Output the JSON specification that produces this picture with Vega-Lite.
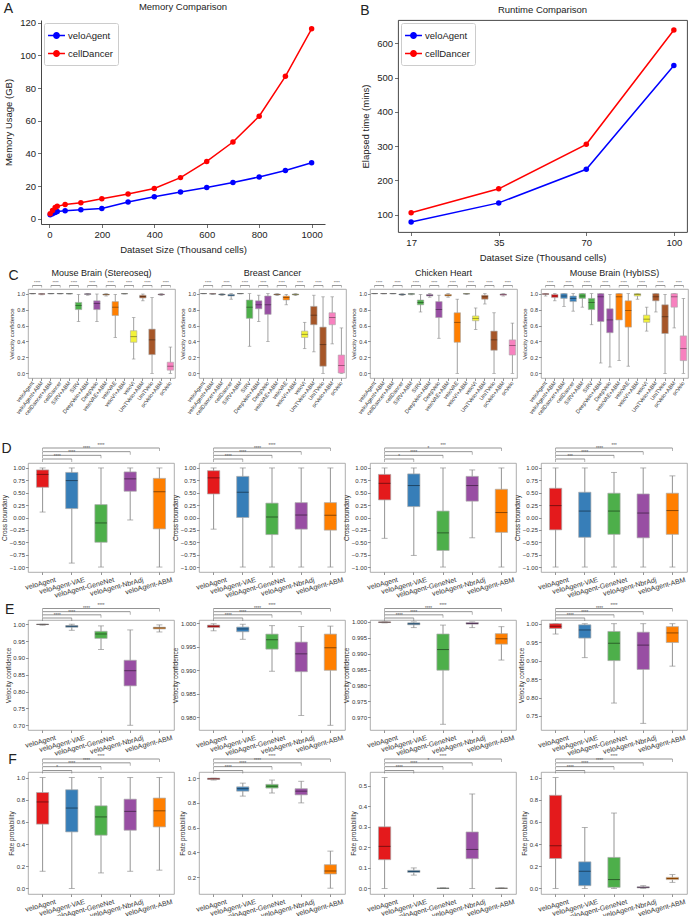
{
  "$schema": "https://vega.github.io/schema/vega-lite/v6.json",
  "padding": {"left": 1, "top": 2, "right": 0, "bottom": 0},
  "background": "white",
  "config": {
    "font": "Liberation Sans",
    "view": {"stroke": "#999999", "strokeWidth": 0.8},
    "axis": {"grid": false, "domain": false, "tickColor": "#666666", "tickSize": 2.5, "tickWidth": 0.7, "labelColor": "#333333", "titleColor": "#333333", "labelFontSize": 6, "titleFontSize": 6.5, "titleFontWeight": "normal", "labelPadding": 1, "titlePadding": 1.5, "labelOverlap": false, "labelFlush": false, "labelBound": false},
    "title": {"fontWeight": "normal", "fontSize": 9, "color": "#222222"}
  },
  "datasets": {
    "mem": [
      {"tool": "veloAgent", "cells": 3, "gb": 2.5}, {"tool": "veloAgent", "cells": 12, "gb": 3.0}, {"tool": "veloAgent", "cells": 22, "gb": 3.8}, {"tool": "veloAgent", "cells": 30, "gb": 4.5},
      {"tool": "veloAgent", "cells": 60, "gb": 4.9}, {"tool": "veloAgent", "cells": 120, "gb": 5.5}, {"tool": "veloAgent", "cells": 200, "gb": 6.3}, {"tool": "veloAgent", "cells": 300, "gb": 10.3},
      {"tool": "veloAgent", "cells": 400, "gb": 13.5}, {"tool": "veloAgent", "cells": 500, "gb": 16.4}, {"tool": "veloAgent", "cells": 600, "gb": 19.1}, {"tool": "veloAgent", "cells": 700, "gb": 22.2},
      {"tool": "veloAgent", "cells": 800, "gb": 25.6}, {"tool": "veloAgent", "cells": 900, "gb": 29.5}, {"tool": "veloAgent", "cells": 1000, "gb": 34.3},
      {"tool": "cellDancer", "cells": 3, "gb": 3.1}, {"tool": "cellDancer", "cells": 12, "gb": 5.1}, {"tool": "cellDancer", "cells": 22, "gb": 6.9}, {"tool": "cellDancer", "cells": 30, "gb": 7.6},
      {"tool": "cellDancer", "cells": 60, "gb": 8.8}, {"tool": "cellDancer", "cells": 120, "gb": 9.8}, {"tool": "cellDancer", "cells": 200, "gb": 12.3}, {"tool": "cellDancer", "cells": 300, "gb": 15.2},
      {"tool": "cellDancer", "cells": 400, "gb": 18.5}, {"tool": "cellDancer", "cells": 500, "gb": 25.2}, {"tool": "cellDancer", "cells": 600, "gb": 35.1}, {"tool": "cellDancer", "cells": 700, "gb": 47.0},
      {"tool": "cellDancer", "cells": 800, "gb": 62.8}, {"tool": "cellDancer", "cells": 900, "gb": 87.2}, {"tool": "cellDancer", "cells": 1000, "gb": 116.3}
    ],
    "rt": [
      {"tool": "veloAgent", "size": "17", "mins": 78}, {"tool": "veloAgent", "size": "35", "mins": 134}, {"tool": "veloAgent", "size": "70", "mins": 232}, {"tool": "veloAgent", "size": "100", "mins": 535},
      {"tool": "cellDancer", "size": "17", "mins": 105}, {"tool": "cellDancer", "size": "35", "mins": 175}, {"tool": "cellDancer", "size": "70", "mins": 305}, {"tool": "cellDancer", "size": "100", "mins": 639}
    ],
    "box": [
      {"p": "C1", "m": "veloAgent", "g": "veloAgent", "lo": 0.996, "q1": 0.999, "med": 1, "q3": 1, "hi": 1},
      {"p": "C1", "m": "veloAgent+ABM", "g": "veloAgent", "lo": 0.985, "q1": 0.993, "med": 0.996, "q3": 0.998, "hi": 1},
      {"p": "C1", "m": "cellDancer+ABM", "g": "cellDancer", "lo": 0.997, "q1": 0.999, "med": 1, "q3": 1, "hi": 1},
      {"p": "C1", "m": "cellDancer", "g": "cellDancer", "lo": 0.996, "q1": 0.999, "med": 1, "q3": 1, "hi": 1},
      {"p": "C1", "m": "SIRV+ABM", "g": "SIRV", "lo": 0.995, "q1": 0.998, "med": 0.999, "q3": 1, "hi": 1},
      {"p": "C1", "m": "SIRV", "g": "SIRV", "lo": 0.65, "q1": 0.8, "med": 0.85, "q3": 0.89, "hi": 0.99},
      {"p": "C1", "m": "DeepVelo+ABM", "g": "DeepVelo", "lo": 0.98, "q1": 0.99, "med": 0.995, "q3": 0.998, "hi": 1},
      {"p": "C1", "m": "DeepVelo", "g": "DeepVelo", "lo": 0.65, "q1": 0.8, "med": 0.875, "q3": 0.91, "hi": 0.995},
      {"p": "C1", "m": "veloVAE+ABM", "g": "veloVAE", "lo": 0.97, "q1": 0.982, "med": 0.988, "q3": 0.993, "hi": 1},
      {"p": "C1", "m": "veloVAE", "g": "veloVAE", "lo": 0.45, "q1": 0.725, "med": 0.83, "q3": 0.9, "hi": 0.99},
      {"p": "C1", "m": "veloVI+ABM", "g": "veloVI", "lo": 0.995, "q1": 0.998, "med": 0.999, "q3": 1, "hi": 1},
      {"p": "C1", "m": "veloVI", "g": "veloVI", "lo": 0.18, "q1": 0.39, "med": 0.46, "q3": 0.535, "hi": 0.7},
      {"p": "C1", "m": "UniTVelo+ABM", "g": "UniTVelo", "lo": 0.91, "q1": 0.945, "med": 0.965, "q3": 0.98, "hi": 0.995},
      {"p": "C1", "m": "UniTVelo", "g": "UniTVelo", "lo": 0, "q1": 0.235, "med": 0.42, "q3": 0.555, "hi": 0.95},
      {"p": "C1", "m": "scVelo+ABM", "g": "scVelo", "lo": 0.975, "q1": 0.985, "med": 0.99, "q3": 0.995, "hi": 1},
      {"p": "C1", "m": "scVelo", "g": "scVelo", "lo": 0, "q1": 0.04, "med": 0.09, "q3": 0.14, "hi": 0.33},
      {"p": "C2", "m": "veloAgent", "g": "veloAgent", "lo": 0.998, "q1": 1, "med": 1, "q3": 1, "hi": 1},
      {"p": "C2", "m": "veloAgent+ABM", "g": "veloAgent", "lo": 0.99, "q1": 0.995, "med": 0.997, "q3": 0.999, "hi": 1},
      {"p": "C2", "m": "cellDancer+ABM", "g": "cellDancer", "lo": 0.975, "q1": 0.985, "med": 0.99, "q3": 0.995, "hi": 1},
      {"p": "C2", "m": "cellDancer", "g": "cellDancer", "lo": 0.93, "q1": 0.97, "med": 0.98, "q3": 0.99, "hi": 1},
      {"p": "C2", "m": "SIRV+ABM", "g": "SIRV", "lo": 0.997, "q1": 0.999, "med": 1, "q3": 1, "hi": 1},
      {"p": "C2", "m": "SIRV", "g": "SIRV", "lo": 0.34, "q1": 0.69, "med": 0.83, "q3": 0.92, "hi": 1},
      {"p": "C2", "m": "DeepVelo+ABM", "g": "DeepVelo", "lo": 0.65, "q1": 0.81, "med": 0.86, "q3": 0.91, "hi": 0.98},
      {"p": "C2", "m": "DeepVelo", "g": "DeepVelo", "lo": 0.4, "q1": 0.74, "med": 0.86, "q3": 0.97, "hi": 1},
      {"p": "C2", "m": "veloVAE+ABM", "g": "veloVAE", "lo": 0.975, "q1": 0.985, "med": 0.99, "q3": 0.995, "hi": 1},
      {"p": "C2", "m": "veloVAE", "g": "veloVAE", "lo": 0.86, "q1": 0.92, "med": 0.95, "q3": 0.97, "hi": 0.99},
      {"p": "C2", "m": "veloVI+ABM", "g": "veloVI", "lo": 0.975, "q1": 0.985, "med": 0.99, "q3": 0.995, "hi": 1},
      {"p": "C2", "m": "veloVI", "g": "veloVI", "lo": 0.31, "q1": 0.45, "med": 0.49, "q3": 0.53, "hi": 0.64},
      {"p": "C2", "m": "UniTVelo+ABM", "g": "UniTVelo", "lo": 0.27, "q1": 0.61, "med": 0.73, "q3": 0.84, "hi": 0.98},
      {"p": "C2", "m": "UniTVelo", "g": "UniTVelo", "lo": 0, "q1": 0.09, "med": 0.36, "q3": 0.58, "hi": 0.96},
      {"p": "C2", "m": "scVelo+ABM", "g": "scVelo", "lo": 0.37, "q1": 0.61, "med": 0.7, "q3": 0.76, "hi": 0.96},
      {"p": "C2", "m": "scVelo", "g": "scVelo", "lo": 0, "q1": 0.005, "med": 0.1, "q3": 0.23, "hi": 0.57},
      {"p": "C3", "m": "veloAgent", "g": "veloAgent", "lo": 0.998, "q1": 1, "med": 1, "q3": 1, "hi": 1},
      {"p": "C3", "m": "veloAgent+ABM", "g": "veloAgent", "lo": 0.997, "q1": 0.999, "med": 1, "q3": 1, "hi": 1},
      {"p": "C3", "m": "cellDancer+ABM", "g": "cellDancer", "lo": 0.997, "q1": 0.999, "med": 1, "q3": 1, "hi": 1},
      {"p": "C3", "m": "cellDancer", "g": "cellDancer", "lo": 0.975, "q1": 0.985, "med": 0.99, "q3": 0.995, "hi": 1},
      {"p": "C3", "m": "SIRV+ABM", "g": "SIRV", "lo": 0.985, "q1": 0.992, "med": 0.996, "q3": 0.999, "hi": 1},
      {"p": "C3", "m": "SIRV", "g": "SIRV", "lo": 0.77, "q1": 0.86, "med": 0.89, "q3": 0.92, "hi": 0.99},
      {"p": "C3", "m": "DeepVelo+ABM", "g": "DeepVelo", "lo": 0.955, "q1": 0.97, "med": 0.98, "q3": 0.99, "hi": 1},
      {"p": "C3", "m": "DeepVelo", "g": "DeepVelo", "lo": 0.44, "q1": 0.7, "med": 0.8, "q3": 0.9, "hi": 0.98},
      {"p": "C3", "m": "veloVAE+ABM", "g": "veloVAE", "lo": 0.955, "q1": 0.97, "med": 0.98, "q3": 0.99, "hi": 1},
      {"p": "C3", "m": "veloVAE", "g": "veloVAE", "lo": 0, "q1": 0.39, "med": 0.64, "q3": 0.76, "hi": 0.93},
      {"p": "C3", "m": "veloVI+ABM", "g": "veloVI", "lo": 0.99, "q1": 0.995, "med": 0.998, "q3": 1, "hi": 1},
      {"p": "C3", "m": "veloVI", "g": "veloVI", "lo": 0.55, "q1": 0.66, "med": 0.69, "q3": 0.72, "hi": 0.82},
      {"p": "C3", "m": "UniTVelo+ABM", "g": "UniTVelo", "lo": 0.87, "q1": 0.93, "med": 0.96, "q3": 0.98, "hi": 1},
      {"p": "C3", "m": "UniTVelo", "g": "UniTVelo", "lo": 0, "q1": 0.29, "med": 0.42, "q3": 0.53, "hi": 0.76},
      {"p": "C3", "m": "scVelo+ABM", "g": "scVelo", "lo": 0.97, "q1": 0.98, "med": 0.99, "q3": 0.995, "hi": 1},
      {"p": "C3", "m": "scVelo", "g": "scVelo", "lo": 0, "q1": 0.23, "med": 0.35, "q3": 0.42, "hi": 0.63},
      {"p": "C4", "m": "veloAgent", "g": "veloAgent", "lo": 0.97, "q1": 0.99, "med": 0.995, "q3": 1, "hi": 1},
      {"p": "C4", "m": "veloAgent+ABM", "g": "veloAgent", "lo": 0.91, "q1": 0.95, "med": 0.97, "q3": 0.99, "hi": 1},
      {"p": "C4", "m": "cellDancer+ABM", "g": "cellDancer", "lo": 0.84, "q1": 0.94, "med": 0.97, "q3": 1, "hi": 1},
      {"p": "C4", "m": "cellDancer", "g": "cellDancer", "lo": 0.78, "q1": 0.9, "med": 0.94, "q3": 0.97, "hi": 1},
      {"p": "C4", "m": "SIRV+ABM", "g": "SIRV", "lo": 0.83, "q1": 0.94, "med": 0.97, "q3": 1, "hi": 1},
      {"p": "C4", "m": "SIRV", "g": "SIRV", "lo": 0.61, "q1": 0.8, "med": 0.89, "q3": 0.94, "hi": 1},
      {"p": "C4", "m": "DeepVelo+ABM", "g": "DeepVelo", "lo": 0.13, "q1": 0.65, "med": 0.96, "q3": 1, "hi": 1},
      {"p": "C4", "m": "DeepVelo", "g": "DeepVelo", "lo": 0.08, "q1": 0.51, "med": 0.67, "q3": 0.81, "hi": 0.99},
      {"p": "C4", "m": "veloVAE+ABM", "g": "veloVAE", "lo": 0.16, "q1": 0.67, "med": 0.96, "q3": 1, "hi": 1},
      {"p": "C4", "m": "veloVAE", "g": "veloVAE", "lo": 0.09, "q1": 0.58, "med": 0.79, "q3": 0.91, "hi": 1},
      {"p": "C4", "m": "veloVI+ABM", "g": "veloVI", "lo": 0.93, "q1": 0.97, "med": 0.99, "q3": 1, "hi": 1},
      {"p": "C4", "m": "veloVI", "g": "veloVI", "lo": 0.53, "q1": 0.64, "med": 0.68, "q3": 0.73, "hi": 0.83},
      {"p": "C4", "m": "UniTVelo+ABM", "g": "UniTVelo", "lo": 0.77, "q1": 0.91, "med": 0.96, "q3": 1, "hi": 1},
      {"p": "C4", "m": "UniTVelo", "g": "UniTVelo", "lo": 0, "q1": 0.5, "med": 0.71, "q3": 0.86, "hi": 0.99},
      {"p": "C4", "m": "scVelo+ABM", "g": "scVelo", "lo": 0.57, "q1": 0.83, "med": 0.96, "q3": 1, "hi": 1},
      {"p": "C4", "m": "scVelo", "g": "scVelo", "lo": 0, "q1": 0.16, "med": 0.31, "q3": 0.47, "hi": 0.94},
      {"p": "D1", "m": "veloAgent", "lo": 0.11, "q1": 0.61, "med": 0.87, "q3": 0.96, "hi": 1},
      {"p": "D1", "m": "veloAgent-VAE", "lo": -0.92, "q1": 0.18, "med": 0.745, "q3": 0.91, "hi": 1},
      {"p": "D1", "m": "veloAgent-GeneNet", "lo": -1, "q1": -0.5, "med": -0.11, "q3": 0.26, "hi": 1},
      {"p": "D1", "m": "veloAgent-NbrAdj", "lo": -0.05, "q1": 0.53, "med": 0.78, "q3": 0.92, "hi": 1},
      {"p": "D1", "m": "veloAgent-ABM", "lo": -1, "q1": -0.23, "med": 0.52, "q3": 0.79, "hi": 1},
      {"p": "D2", "m": "veloAgent", "lo": -0.235, "q1": 0.475, "med": 0.8, "q3": 0.945, "hi": 1},
      {"p": "D2", "m": "veloAgent-VAE", "lo": -1, "q1": 0, "med": 0.51, "q3": 0.83, "hi": 1},
      {"p": "D2", "m": "veloAgent-GeneNet", "lo": -1, "q1": -0.345, "med": 0.01, "q3": 0.29, "hi": 1},
      {"p": "D2", "m": "veloAgent-NbrAdj", "lo": -1, "q1": -0.235, "med": 0.05, "q3": 0.3, "hi": 1},
      {"p": "D2", "m": "veloAgent-ABM", "lo": -1, "q1": -0.255, "med": 0.045, "q3": 0.3, "hi": 1},
      {"p": "D3", "m": "veloAgent", "lo": -0.42, "q1": 0.355, "med": 0.69, "q3": 0.87, "hi": 1},
      {"p": "D3", "m": "veloAgent-VAE", "lo": -0.765, "q1": 0.22, "med": 0.645, "q3": 0.88, "hi": 1},
      {"p": "D3", "m": "veloAgent-GeneNet", "lo": -1, "q1": -0.665, "med": -0.31, "q3": 0.13, "hi": 1},
      {"p": "D3", "m": "veloAgent-NbrAdj", "lo": -0.41, "q1": 0.33, "med": 0.645, "q3": 0.83, "hi": 0.96},
      {"p": "D3", "m": "veloAgent-ABM", "lo": -1, "q1": -0.3, "med": 0.1, "q3": 0.57, "hi": 1},
      {"p": "D4", "m": "veloAgent", "lo": -1, "q1": -0.25, "med": 0.24, "q3": 0.59, "hi": 1},
      {"p": "D4", "m": "veloAgent-VAE", "lo": -1, "q1": -0.4, "med": 0.13, "q3": 0.51, "hi": 1},
      {"p": "D4", "m": "veloAgent-GeneNet", "lo": -1, "q1": -0.34, "med": 0.13, "q3": 0.49, "hi": 0.91},
      {"p": "D4", "m": "veloAgent-NbrAdj", "lo": -1, "q1": -0.41, "med": 0.09, "q3": 0.475, "hi": 1},
      {"p": "D4", "m": "veloAgent-ABM", "lo": -1, "q1": -0.34, "med": 0.14, "q3": 0.49, "hi": 0.84},
      {"p": "E1", "m": "veloAgent", "lo": 0.997, "q1": 0.999, "med": 0.9995, "q3": 1, "hi": 1},
      {"p": "E1", "m": "veloAgent-VAE", "lo": 0.982, "q1": 0.991, "med": 0.994, "q3": 0.996, "hi": 1},
      {"p": "E1", "m": "veloAgent-GeneNet", "lo": 0.925, "q1": 0.958, "med": 0.971, "q3": 0.979, "hi": 0.995},
      {"p": "E1", "m": "veloAgent-NbrAdj", "lo": 0.7, "q1": 0.817, "med": 0.862, "q3": 0.893, "hi": 0.983},
      {"p": "E1", "m": "veloAgent-ABM", "lo": 0.977, "q1": 0.986, "med": 0.989, "q3": 0.991, "hi": 0.998},
      {"p": "E2", "m": "veloAgent", "lo": 0.9984, "q1": 0.9991, "med": 0.9994, "q3": 0.9996, "hi": 0.9999},
      {"p": "E2", "m": "veloAgent-VAE", "lo": 0.9966, "q1": 0.9982, "med": 0.9988, "q3": 0.9992, "hi": 0.9998},
      {"p": "E2", "m": "veloAgent-GeneNet", "lo": 0.9898, "q1": 0.9945, "med": 0.9965, "q3": 0.9977, "hi": 0.9995},
      {"p": "E2", "m": "veloAgent-NbrAdj", "lo": 0.9804, "q1": 0.9897, "med": 0.9935, "q3": 0.996, "hi": 0.9993},
      {"p": "E2", "m": "veloAgent-ABM", "lo": 0.9783, "q1": 0.99, "med": 0.9948, "q3": 0.9977, "hi": 0.9994},
      {"p": "E3", "m": "veloAgent", "lo": 0.9997, "q1": 0.9998, "med": 0.9999, "q3": 1, "hi": 1},
      {"p": "E3", "m": "veloAgent-VAE", "lo": 0.9982, "q1": 0.9991, "med": 0.9994, "q3": 0.9997, "hi": 1},
      {"p": "E3", "m": "veloAgent-GeneNet", "lo": 0.9678, "q1": 0.9848, "med": 0.9913, "q3": 0.9962, "hi": 0.999},
      {"p": "E3", "m": "veloAgent-NbrAdj", "lo": 0.9982, "q1": 0.9993, "med": 0.9995, "q3": 0.9998, "hi": 1},
      {"p": "E3", "m": "veloAgent-ABM", "lo": 0.988, "q1": 0.993, "med": 0.9947, "q3": 0.9963, "hi": 0.9985},
      {"p": "E4", "m": "veloAgent", "lo": 0.972, "q1": 0.987, "med": 0.993, "q3": 1, "hi": 1},
      {"p": "E4", "m": "veloAgent-VAE", "lo": 0.908, "q1": 0.961, "med": 0.983, "q3": 0.997, "hi": 1},
      {"p": "E4", "m": "veloAgent-GeneNet", "lo": 0.785, "q1": 0.9, "med": 0.947, "q3": 0.979, "hi": 1},
      {"p": "E4", "m": "veloAgent-NbrAdj", "lo": 0.73, "q1": 0.876, "med": 0.942, "q3": 0.977, "hi": 1},
      {"p": "E4", "m": "veloAgent-ABM", "lo": 0.885, "q1": 0.949, "med": 0.975, "q3": 0.992, "hi": 1},
      {"p": "F1", "m": "veloAgent", "lo": 0.155, "q1": 0.58, "med": 0.78, "q3": 0.865, "hi": 1},
      {"p": "F1", "m": "veloAgent-VAE", "lo": 0, "q1": 0.51, "med": 0.725, "q3": 0.89, "hi": 1},
      {"p": "F1", "m": "veloAgent-GeneNet", "lo": 0.14, "q1": 0.48, "med": 0.645, "q3": 0.745, "hi": 1},
      {"p": "F1", "m": "veloAgent-NbrAdj", "lo": 0.155, "q1": 0.525, "med": 0.695, "q3": 0.805, "hi": 1},
      {"p": "F1", "m": "veloAgent-ABM", "lo": 0.165, "q1": 0.555, "med": 0.7, "q3": 0.815, "hi": 1},
      {"p": "F2", "m": "veloAgent", "lo": 0.985, "q1": 0.99, "med": 0.995, "q3": 1, "hi": 1},
      {"p": "F2", "m": "veloAgent-VAE", "lo": 0.855, "q1": 0.895, "med": 0.915, "q3": 0.93, "hi": 0.96},
      {"p": "F2", "m": "veloAgent-GeneNet", "lo": 0.88, "q1": 0.92, "med": 0.935, "q3": 0.95, "hi": 0.985},
      {"p": "F2", "m": "veloAgent-NbrAdj", "lo": 0.8, "q1": 0.865, "med": 0.895, "q3": 0.915, "hi": 0.975},
      {"p": "F2", "m": "veloAgent-ABM", "lo": 0.11, "q1": 0.225, "med": 0.25, "q3": 0.3, "hi": 0.41},
      {"p": "F3", "m": "veloAgent", "lo": 0, "q1": 0.14, "med": 0.205, "q3": 0.3, "hi": 0.54},
      {"p": "F3", "m": "veloAgent-VAE", "lo": 0.065, "q1": 0.078, "med": 0.083, "q3": 0.088, "hi": 0.1},
      {"p": "F3", "m": "veloAgent-GeneNet", "lo": 0, "q1": 0.0005, "med": 0.001, "q3": 0.0015, "hi": 0.003},
      {"p": "F3", "m": "veloAgent-NbrAdj", "lo": 0, "q1": 0.145, "med": 0.19, "q3": 0.275, "hi": 0.46},
      {"p": "F3", "m": "veloAgent-ABM", "lo": 0, "q1": 0.0005, "med": 0.001, "q3": 0.0015, "hi": 0.003},
      {"p": "F4", "m": "veloAgent", "lo": 0, "q1": 0.27, "med": 0.385, "q3": 0.84, "hi": 1},
      {"p": "F4", "m": "veloAgent-VAE", "lo": 0, "q1": 0.025, "med": 0.155, "q3": 0.24, "hi": 0.55},
      {"p": "F4", "m": "veloAgent-GeneNet", "lo": 0, "q1": 0.01, "med": 0.08, "q3": 0.28, "hi": 0.68},
      {"p": "F4", "m": "veloAgent-NbrAdj", "lo": 0, "q1": 0.005, "med": 0.01, "q3": 0.015, "hi": 0.025},
      {"p": "F4", "m": "veloAgent-ABM", "lo": 0.055, "q1": 0.08, "med": 0.09, "q3": 0.1, "hi": 0.125}
    ],
    "brkC": [
      {"x1": 0, "x2": 1, "xm": 0.5, "lvl": 1, "t": "****"}, {"x1": 2, "x2": 3, "xm": 2.5, "lvl": 1, "t": "****"},
      {"x1": 4, "x2": 5, "xm": 4.5, "lvl": 1, "t": "****"}, {"x1": 6, "x2": 7, "xm": 6.5, "lvl": 1, "t": "****"},
      {"x1": 8, "x2": 9, "xm": 8.5, "lvl": 1, "t": "****"}, {"x1": 10, "x2": 11, "xm": 10.5, "lvl": 1, "t": "****"},
      {"x1": 12, "x2": 13, "xm": 12.5, "lvl": 1, "t": "****"}, {"x1": 14, "x2": 15, "xm": 14.5, "lvl": 1, "t": "****"}
    ],
    "brk": [
      {"p": "D1", "x1": 0, "x2": 1, "xm": 0.5, "lvl": 1, "t": "****"}, {"p": "D1", "x1": 0, "x2": 2, "xm": 1, "lvl": 2, "t": "****"}, {"p": "D1", "x1": 0, "x2": 3, "xm": 1.5, "lvl": 3, "t": "****"}, {"p": "D1", "x1": 0, "x2": 4, "xm": 2, "lvl": 4, "t": "****"},
      {"p": "D2", "x1": 0, "x2": 1, "xm": 0.5, "lvl": 1, "t": "****"}, {"p": "D2", "x1": 0, "x2": 2, "xm": 1, "lvl": 2, "t": "****"}, {"p": "D2", "x1": 0, "x2": 3, "xm": 1.5, "lvl": 3, "t": "****"}, {"p": "D2", "x1": 0, "x2": 4, "xm": 2, "lvl": 4, "t": "****"},
      {"p": "D3", "x1": 0, "x2": 1, "xm": 0.5, "lvl": 1, "t": "*"}, {"p": "D3", "x1": 0, "x2": 2, "xm": 1, "lvl": 2, "t": "****"}, {"p": "D3", "x1": 0, "x2": 3, "xm": 1.5, "lvl": 3, "t": "*"}, {"p": "D3", "x1": 0, "x2": 4, "xm": 2, "lvl": 4, "t": "***"},
      {"p": "D4", "x1": 0, "x2": 1, "xm": 0.5, "lvl": 1, "t": "***"}, {"p": "D4", "x1": 0, "x2": 2, "xm": 1, "lvl": 2, "t": "****"}, {"p": "D4", "x1": 0, "x2": 3, "xm": 1.5, "lvl": 3, "t": "****"}, {"p": "D4", "x1": 0, "x2": 4, "xm": 2, "lvl": 4, "t": "***"},
      {"p": "E1", "x1": 0, "x2": 1, "xm": 0.5, "lvl": 1, "t": "****"}, {"p": "E1", "x1": 0, "x2": 2, "xm": 1, "lvl": 2, "t": "****"}, {"p": "E1", "x1": 0, "x2": 3, "xm": 1.5, "lvl": 3, "t": "****"}, {"p": "E1", "x1": 0, "x2": 4, "xm": 2, "lvl": 4, "t": "****"},
      {"p": "E2", "x1": 0, "x2": 1, "xm": 0.5, "lvl": 1, "t": "****"}, {"p": "E2", "x1": 0, "x2": 2, "xm": 1, "lvl": 2, "t": "****"}, {"p": "E2", "x1": 0, "x2": 3, "xm": 1.5, "lvl": 3, "t": "****"}, {"p": "E2", "x1": 0, "x2": 4, "xm": 2, "lvl": 4, "t": "****"},
      {"p": "E3", "x1": 0, "x2": 1, "xm": 0.5, "lvl": 1, "t": "****"}, {"p": "E3", "x1": 0, "x2": 2, "xm": 1, "lvl": 2, "t": "****"}, {"p": "E3", "x1": 0, "x2": 3, "xm": 1.5, "lvl": 3, "t": "****"}, {"p": "E3", "x1": 0, "x2": 4, "xm": 2, "lvl": 4, "t": "****"},
      {"p": "E4", "x1": 0, "x2": 1, "xm": 0.5, "lvl": 1, "t": "****"}, {"p": "E4", "x1": 0, "x2": 2, "xm": 1, "lvl": 2, "t": "****"}, {"p": "E4", "x1": 0, "x2": 3, "xm": 1.5, "lvl": 3, "t": "****"}, {"p": "E4", "x1": 0, "x2": 4, "xm": 2, "lvl": 4, "t": "****"},
      {"p": "F1", "x1": 0, "x2": 1, "xm": 0.5, "lvl": 1, "t": "*"}, {"p": "F1", "x1": 0, "x2": 2, "xm": 1, "lvl": 2, "t": "****"}, {"p": "F1", "x1": 0, "x2": 3, "xm": 1.5, "lvl": 3, "t": "****"}, {"p": "F1", "x1": 0, "x2": 4, "xm": 2, "lvl": 4, "t": "****"},
      {"p": "F2", "x1": 0, "x2": 1, "xm": 0.5, "lvl": 1, "t": "****"}, {"p": "F2", "x1": 0, "x2": 2, "xm": 1, "lvl": 2, "t": "****"}, {"p": "F2", "x1": 0, "x2": 3, "xm": 1.5, "lvl": 3, "t": "****"}, {"p": "F2", "x1": 0, "x2": 4, "xm": 2, "lvl": 4, "t": "****"},
      {"p": "F3", "x1": 0, "x2": 1, "xm": 0.5, "lvl": 1, "t": "****"}, {"p": "F3", "x1": 0, "x2": 2, "xm": 1, "lvl": 2, "t": "****"}, {"p": "F3", "x1": 0, "x2": 3, "xm": 1.5, "lvl": 3, "t": "*"}, {"p": "F3", "x1": 0, "x2": 4, "xm": 2, "lvl": 4, "t": "****"},
      {"p": "F4", "x1": 0, "x2": 1, "xm": 0.5, "lvl": 1, "t": "****"}, {"p": "F4", "x1": 0, "x2": 2, "xm": 1, "lvl": 2, "t": "****"}, {"p": "F4", "x1": 0, "x2": 3, "xm": 1.5, "lvl": 3, "t": "****"}, {"p": "F4", "x1": 0, "x2": 4, "xm": 2, "lvl": 4, "t": "****"}
    ]
  },
  "resolve": {"scale": {"color": "independent"}, "legend": {"color": "independent"}},
  "spacing": 6,
  "vconcat": [
    {
      "hconcat": [
        {
          "title": {"text": "A", "anchor": "start", "frame": "bounds", "fontSize": 14, "offset": -14},
          "vconcat": [
            {
              "width": 297, "height": 204,
              "view": {"stroke": null},
              "title": {"text": "Memory Comparison", "fontSize": 9.5, "offset": 6, "dx": 6.5},
              "encoding": {
                "x": {"field": "cells", "type": "quantitative", "scale": {"domain": [-32, 1051], "range": [13, 297], "nice": false, "zero": false},
                      "axis": {"values": [0, 200, 400, 600, 800, 1000], "format": "d", "title": "Dataset Size (Thousand cells)", "domain": true, "domainColor": "#333333", "domainWidth": 0.9, "labelFontSize": 9.5, "titleFontSize": 9.5, "tickColor": "#333333", "tickSize": 3.5, "labelPadding": 2, "titlePadding": 5, "labelColor": "#222222", "titleColor": "#222222"}},
                "y": {"field": "gb", "type": "quantitative", "scale": {"domain": [-3.2, 121.7], "nice": false, "zero": false},
                      "axis": {"values": [0, 20, 40, 60, 80, 100, 120], "title": "Memory Usage (GB)", "offset": -13, "domain": true, "domainColor": "#333333", "domainWidth": 0.9, "labelFontSize": 9.5, "titleFontSize": 9.5, "tickColor": "#333333", "tickSize": 3.5, "labelPadding": 2, "titlePadding": 6, "labelColor": "#222222", "titleColor": "#222222"}}
              },
              "layer": [
                {"data": {"name": "mem"},
                 "mark": {"type": "line", "strokeWidth": 1.5, "point": {"filled": true, "size": 30, "opacity": 1}},
                 "encoding": {
                   "color": {"field": "tool", "type": "nominal", "scale": {"domain": ["veloAgent", "cellDancer"], "range": ["#0000ff", "#ff0000"]},
                             "legend": {"title": null, "orient": "none", "legendX": 16, "legendY": 3, "padding": 5, "strokeColor": "#cccccc", "cornerRadius": 2, "fillColor": "white", "labelFontSize": 9.5, "labelColor": "#222222", "rowPadding": 4,
                                        "symbolType": "M-1.3,0L1.3,0M0.42,0A0.42,0.42,0,1,1,-0.42,0A0.42,0.42,0,1,1,0.42,0Z", "symbolSize": 170, "symbolStrokeWidth": 1.5,
                                        "encode": {"symbols": {"update": {"fill": {"signal": "datum.value === 'veloAgent' ? '#0000ff' : '#ff0000'"}, "stroke": {"signal": "datum.value === 'veloAgent' ? '#0000ff' : '#ff0000'"}, "opacity": {"value": 1}}}}}}
                 }},
                {"data": {"values": [{"edge": "top"}]},
                 "mark": {"type": "rule", "color": "#333333", "strokeWidth": 0.9},
                 "encoding": {"x": {"datum": -32, "type": "quantitative"}, "x2": {"datum": 1051}, "y": {"datum": 121.7, "type": "quantitative"}}},
                {"data": {"values": [{"edge": "right"}]},
                 "mark": {"type": "rule", "color": "#333333", "strokeWidth": 0.9},
                 "encoding": {"x": {"datum": 1051, "type": "quantitative"}, "y": {"datum": -3.2, "type": "quantitative"}, "y2": {"datum": 121.7}}}
              ]
            }
          ]
        },
        {
          "title": {"text": "B", "anchor": "start", "frame": "bounds", "fontSize": 14, "offset": -14},
          "vconcat": [
            {
              "width": 289, "height": 212,
              "view": {"stroke": "#333333", "strokeWidth": 0.9},
              "title": {"text": "Runtime Comparison", "fontSize": 9.5, "offset": 6},
              "data": {"name": "rt"},
              "mark": {"type": "line", "strokeWidth": 1.5, "point": {"filled": true, "size": 30, "opacity": 1}},
              "encoding": {
                "x": {"field": "size", "type": "ordinal", "sort": ["17", "35", "70", "100"], "scale": {"type": "point", "padding": 0.15},
                      "axis": {"labelAngle": 0, "title": "Dataset Size (Thousand cells)", "labelFontSize": 9.5, "titleFontSize": 9.5, "tickColor": "#333333", "tickSize": 3.5, "labelPadding": 2, "titlePadding": 5, "labelColor": "#222222", "titleColor": "#222222"}},
                "y": {"field": "mins", "type": "quantitative", "scale": {"domain": [49, 668], "nice": false, "zero": false},
                      "axis": {"values": [100, 200, 300, 400, 500, 600], "title": "Elapsed time (mins)", "labelFontSize": 9.5, "titleFontSize": 9.5, "tickColor": "#333333", "tickSize": 3.5, "labelPadding": 2, "titlePadding": 6, "labelColor": "#222222", "titleColor": "#222222"}},
                "color": {"field": "tool", "type": "nominal", "scale": {"domain": ["veloAgent", "cellDancer"], "range": ["#0000ff", "#ff0000"]},
                          "legend": {"title": null, "orient": "top-left", "offset": 3, "padding": 5, "strokeColor": "#cccccc", "cornerRadius": 2, "fillColor": "white", "labelFontSize": 9.5, "labelColor": "#222222", "rowPadding": 4,
                                     "symbolType": "M-1.3,0L1.3,0M0.42,0A0.42,0.42,0,1,1,-0.42,0A0.42,0.42,0,1,1,0.42,0Z", "symbolSize": 170, "symbolStrokeWidth": 1.5,
                                     "encode": {"symbols": {"update": {"fill": {"signal": "datum.value === 'veloAgent' ? '#0000ff' : '#ff0000'"}, "stroke": {"signal": "datum.value === 'veloAgent' ? '#0000ff' : '#ff0000'"}, "opacity": {"value": 1}}}}}}
              }
            }
          ]
        }
      ],
      "spacing": 35,
      "bounds": "full",
      "resolve": {"scale": {"color": "independent"}, "legend": {"color": "independent"}}
    },
    {
      "spacing": 25,
      "vconcat": [
        {
          "title": {"text": "C", "anchor": "start", "frame": "bounds", "fontSize": 14, "offset": -14},
          "vconcat": [
        {
          "bounds": "flush",
          "spacing": 24,
          "hconcat": [
            {"width": 147, "height": 89, "title": {"text": "Mouse Brain (Stereoseq)", "offset": 3},
             "layer": [
              {"data": {"name": "box"}, "transform": [{"filter": "datum.p == 'C1'"}],
               "encoding": {
                "x": {"field": "m", "type": "nominal", "scale": {"domain": ["veloAgent", "veloAgent+ABM", "cellDancer+ABM", "cellDancer", "SIRV+ABM", "SIRV", "DeepVelo+ABM", "DeepVelo", "veloVAE+ABM", "veloVAE", "veloVI+ABM", "veloVI", "UniTVelo+ABM", "UniTVelo", "scVelo+ABM", "scVelo"], "paddingInner": 0, "paddingOuter": 0}, "axis": {"title": null, "labelAngle": -52, "labelAlign": "right", "labelBaseline": "middle", "labelFontSize": 5.5, "labelPadding": 1}},
                "y": {"field": "q1", "type": "quantitative", "scale": {"domain": [-0.058, 1.058], "nice": false, "zero": false}, "axis": {"title": "Velocity confidence", "values": [0, 0.2, 0.4, 0.6, 0.8, 1], "format": ".1f", "labelFontSize": 5.5, "titleFontSize": 6, "titlePadding": 2}}},
               "layer": [
                {"mark": {"type": "rule", "color": "#888888", "strokeWidth": 0.8}, "encoding": {"y": {"field": "lo", "type": "quantitative"}, "y2": {"field": "hi"}}},
                {"mark": {"type": "tick", "orient": "horizontal", "size": 3.5, "thickness": 0.8, "color": "#888888"}, "encoding": {"y": {"field": "lo", "type": "quantitative"}}},
                {"mark": {"type": "tick", "orient": "horizontal", "size": 3.5, "thickness": 0.8, "color": "#888888"}, "encoding": {"y": {"field": "hi", "type": "quantitative"}}},
                {"mark": {"type": "bar", "width": {"band": 0.7}, "stroke": "#aaaaaa", "strokeWidth": 0.6, "fillOpacity": 1}, "encoding": {"y2": {"field": "q3"}, "color": {"field": "g", "type": "nominal", "legend": null, "scale": {"domain": ["veloAgent", "cellDancer", "SIRV", "DeepVelo", "veloVAE", "veloVI", "UniTVelo", "scVelo", "veloAgent-VAE", "veloAgent-GeneNet", "veloAgent-NbrAdj", "veloAgent-ABM"], "range": ["#e41a1c", "#377eb8", "#4daf4a", "#984ea3", "#ff7f00", "#f2f23a", "#a65628", "#f781bf", "#377eb8", "#4daf4a", "#984ea3", "#ff7f00"]}}}},
                {"mark": {"type": "tick", "orient": "horizontal", "size": 6.5, "thickness": 0.8, "color": "#000000", "opacity": 0.45}, "encoding": {"y": {"field": "med", "type": "quantitative"}}}
               ]},
              {"data": {"name": "brkC"},
               "encoding": {"x": {"field": "x1", "type": "quantitative", "scale": {"domain": [-0.5, 15.5], "nice": false, "zero": false}, "axis": null},
                            "y": {"field": "lvl", "type": "quantitative", "scale": {"domain": [0, 1], "range": [0, -3.5], "nice": false, "zero": false}, "axis": null}},
               "layer": [
                {"mark": {"type": "rule", "color": "#555555", "strokeWidth": 0.6}, "encoding": {"x2": {"field": "x2"}}},
                {"mark": {"type": "tick", "orient": "vertical", "size": 2, "thickness": 0.6, "yOffset": 1, "color": "#555555"}, "encoding": {}},
                {"mark": {"type": "tick", "orient": "vertical", "size": 2, "thickness": 0.6, "yOffset": 1, "color": "#555555"}, "encoding": {"x": {"field": "x2", "type": "quantitative"}}},
                {"mark": {"type": "text", "fontSize": 4, "baseline": "bottom", "dy": -0.2, "fill": "#444444"}, "encoding": {"x": {"field": "xm", "type": "quantitative"}, "text": {"field": "t"}}}
               ]}
             ],
             "resolve": {"scale": {"x": "independent", "y": "independent"}}},
            {"width": 147, "height": 89, "title": {"text": "Breast Cancer", "offset": 3},
             "layer": [
              {"data": {"name": "box"}, "transform": [{"filter": "datum.p == 'C2'"}],
               "encoding": {
                "x": {"field": "m", "type": "nominal", "scale": {"domain": ["veloAgent", "veloAgent+ABM", "cellDancer+ABM", "cellDancer", "SIRV+ABM", "SIRV", "DeepVelo+ABM", "DeepVelo", "veloVAE+ABM", "veloVAE", "veloVI+ABM", "veloVI", "UniTVelo+ABM", "UniTVelo", "scVelo+ABM", "scVelo"], "paddingInner": 0, "paddingOuter": 0}, "axis": {"title": null, "labelAngle": -52, "labelAlign": "right", "labelBaseline": "middle", "labelFontSize": 5.5, "labelPadding": 1}},
                "y": {"field": "q1", "type": "quantitative", "scale": {"domain": [-0.058, 1.058], "nice": false, "zero": false}, "axis": {"title": "Velocity confidence", "values": [0, 0.2, 0.4, 0.6, 0.8, 1], "format": ".1f", "labelFontSize": 5.5, "titleFontSize": 6, "titlePadding": 2}}},
               "layer": [
                {"mark": {"type": "rule", "color": "#888888", "strokeWidth": 0.8}, "encoding": {"y": {"field": "lo", "type": "quantitative"}, "y2": {"field": "hi"}}},
                {"mark": {"type": "tick", "orient": "horizontal", "size": 3.5, "thickness": 0.8, "color": "#888888"}, "encoding": {"y": {"field": "lo", "type": "quantitative"}}},
                {"mark": {"type": "tick", "orient": "horizontal", "size": 3.5, "thickness": 0.8, "color": "#888888"}, "encoding": {"y": {"field": "hi", "type": "quantitative"}}},
                {"mark": {"type": "bar", "width": {"band": 0.7}, "stroke": "#aaaaaa", "strokeWidth": 0.6, "fillOpacity": 1}, "encoding": {"y2": {"field": "q3"}, "color": {"field": "g", "type": "nominal", "legend": null, "scale": {"domain": ["veloAgent", "cellDancer", "SIRV", "DeepVelo", "veloVAE", "veloVI", "UniTVelo", "scVelo", "veloAgent-VAE", "veloAgent-GeneNet", "veloAgent-NbrAdj", "veloAgent-ABM"], "range": ["#e41a1c", "#377eb8", "#4daf4a", "#984ea3", "#ff7f00", "#f2f23a", "#a65628", "#f781bf", "#377eb8", "#4daf4a", "#984ea3", "#ff7f00"]}}}},
                {"mark": {"type": "tick", "orient": "horizontal", "size": 6.5, "thickness": 0.8, "color": "#000000", "opacity": 0.45}, "encoding": {"y": {"field": "med", "type": "quantitative"}}}
               ]},
              {"data": {"name": "brkC"},
               "encoding": {"x": {"field": "x1", "type": "quantitative", "scale": {"domain": [-0.5, 15.5], "nice": false, "zero": false}, "axis": null},
                            "y": {"field": "lvl", "type": "quantitative", "scale": {"domain": [0, 1], "range": [0, -3.5], "nice": false, "zero": false}, "axis": null}},
               "layer": [
                {"mark": {"type": "rule", "color": "#555555", "strokeWidth": 0.6}, "encoding": {"x2": {"field": "x2"}}},
                {"mark": {"type": "tick", "orient": "vertical", "size": 2, "thickness": 0.6, "yOffset": 1, "color": "#555555"}, "encoding": {}},
                {"mark": {"type": "tick", "orient": "vertical", "size": 2, "thickness": 0.6, "yOffset": 1, "color": "#555555"}, "encoding": {"x": {"field": "x2", "type": "quantitative"}}},
                {"mark": {"type": "text", "fontSize": 4, "baseline": "bottom", "dy": -0.2, "fill": "#444444"}, "encoding": {"x": {"field": "xm", "type": "quantitative"}, "text": {"field": "t"}}}
               ]}
             ],
             "resolve": {"scale": {"x": "independent", "y": "independent"}}},
            {"width": 147, "height": 89, "title": {"text": "Chicken Heart", "offset": 3},
             "layer": [
              {"data": {"name": "box"}, "transform": [{"filter": "datum.p == 'C3'"}],
               "encoding": {
                "x": {"field": "m", "type": "nominal", "scale": {"domain": ["veloAgent", "veloAgent+ABM", "cellDancer+ABM", "cellDancer", "SIRV+ABM", "SIRV", "DeepVelo+ABM", "DeepVelo", "veloVAE+ABM", "veloVAE", "veloVI+ABM", "veloVI", "UniTVelo+ABM", "UniTVelo", "scVelo+ABM", "scVelo"], "paddingInner": 0, "paddingOuter": 0}, "axis": {"title": null, "labelAngle": -52, "labelAlign": "right", "labelBaseline": "middle", "labelFontSize": 5.5, "labelPadding": 1}},
                "y": {"field": "q1", "type": "quantitative", "scale": {"domain": [-0.058, 1.058], "nice": false, "zero": false}, "axis": {"title": "Velocity confidence", "values": [0, 0.2, 0.4, 0.6, 0.8, 1], "format": ".1f", "labelFontSize": 5.5, "titleFontSize": 6, "titlePadding": 2}}},
               "layer": [
                {"mark": {"type": "rule", "color": "#888888", "strokeWidth": 0.8}, "encoding": {"y": {"field": "lo", "type": "quantitative"}, "y2": {"field": "hi"}}},
                {"mark": {"type": "tick", "orient": "horizontal", "size": 3.5, "thickness": 0.8, "color": "#888888"}, "encoding": {"y": {"field": "lo", "type": "quantitative"}}},
                {"mark": {"type": "tick", "orient": "horizontal", "size": 3.5, "thickness": 0.8, "color": "#888888"}, "encoding": {"y": {"field": "hi", "type": "quantitative"}}},
                {"mark": {"type": "bar", "width": {"band": 0.7}, "stroke": "#aaaaaa", "strokeWidth": 0.6, "fillOpacity": 1}, "encoding": {"y2": {"field": "q3"}, "color": {"field": "g", "type": "nominal", "legend": null, "scale": {"domain": ["veloAgent", "cellDancer", "SIRV", "DeepVelo", "veloVAE", "veloVI", "UniTVelo", "scVelo", "veloAgent-VAE", "veloAgent-GeneNet", "veloAgent-NbrAdj", "veloAgent-ABM"], "range": ["#e41a1c", "#377eb8", "#4daf4a", "#984ea3", "#ff7f00", "#f2f23a", "#a65628", "#f781bf", "#377eb8", "#4daf4a", "#984ea3", "#ff7f00"]}}}},
                {"mark": {"type": "tick", "orient": "horizontal", "size": 6.5, "thickness": 0.8, "color": "#000000", "opacity": 0.45}, "encoding": {"y": {"field": "med", "type": "quantitative"}}}
               ]},
              {"data": {"name": "brkC"},
               "encoding": {"x": {"field": "x1", "type": "quantitative", "scale": {"domain": [-0.5, 15.5], "nice": false, "zero": false}, "axis": null},
                            "y": {"field": "lvl", "type": "quantitative", "scale": {"domain": [0, 1], "range": [0, -3.5], "nice": false, "zero": false}, "axis": null}},
               "layer": [
                {"mark": {"type": "rule", "color": "#555555", "strokeWidth": 0.6}, "encoding": {"x2": {"field": "x2"}}},
                {"mark": {"type": "tick", "orient": "vertical", "size": 2, "thickness": 0.6, "yOffset": 1, "color": "#555555"}, "encoding": {}},
                {"mark": {"type": "tick", "orient": "vertical", "size": 2, "thickness": 0.6, "yOffset": 1, "color": "#555555"}, "encoding": {"x": {"field": "x2", "type": "quantitative"}}},
                {"mark": {"type": "text", "fontSize": 4, "baseline": "bottom", "dy": -0.2, "fill": "#444444"}, "encoding": {"x": {"field": "xm", "type": "quantitative"}, "text": {"field": "t"}}}
               ]}
             ],
             "resolve": {"scale": {"x": "independent", "y": "independent"}}},
            {"width": 147, "height": 89, "title": {"text": "Mouse Brain (HybISS)", "offset": 3},
             "layer": [
              {"data": {"name": "box"}, "transform": [{"filter": "datum.p == 'C4'"}],
               "encoding": {
                "x": {"field": "m", "type": "nominal", "scale": {"domain": ["veloAgent", "veloAgent+ABM", "cellDancer+ABM", "cellDancer", "SIRV+ABM", "SIRV", "DeepVelo+ABM", "DeepVelo", "veloVAE+ABM", "veloVAE", "veloVI+ABM", "veloVI", "UniTVelo+ABM", "UniTVelo", "scVelo+ABM", "scVelo"], "paddingInner": 0, "paddingOuter": 0}, "axis": {"title": null, "labelAngle": -52, "labelAlign": "right", "labelBaseline": "middle", "labelFontSize": 5.5, "labelPadding": 1}},
                "y": {"field": "q1", "type": "quantitative", "scale": {"domain": [-0.058, 1.058], "nice": false, "zero": false}, "axis": {"title": "Velocity confidence", "values": [0, 0.2, 0.4, 0.6, 0.8, 1], "format": ".1f", "labelFontSize": 5.5, "titleFontSize": 6, "titlePadding": 2}}},
               "layer": [
                {"mark": {"type": "rule", "color": "#888888", "strokeWidth": 0.8}, "encoding": {"y": {"field": "lo", "type": "quantitative"}, "y2": {"field": "hi"}}},
                {"mark": {"type": "tick", "orient": "horizontal", "size": 3.5, "thickness": 0.8, "color": "#888888"}, "encoding": {"y": {"field": "lo", "type": "quantitative"}}},
                {"mark": {"type": "tick", "orient": "horizontal", "size": 3.5, "thickness": 0.8, "color": "#888888"}, "encoding": {"y": {"field": "hi", "type": "quantitative"}}},
                {"mark": {"type": "bar", "width": {"band": 0.7}, "stroke": "#aaaaaa", "strokeWidth": 0.6, "fillOpacity": 1}, "encoding": {"y2": {"field": "q3"}, "color": {"field": "g", "type": "nominal", "legend": null, "scale": {"domain": ["veloAgent", "cellDancer", "SIRV", "DeepVelo", "veloVAE", "veloVI", "UniTVelo", "scVelo", "veloAgent-VAE", "veloAgent-GeneNet", "veloAgent-NbrAdj", "veloAgent-ABM"], "range": ["#e41a1c", "#377eb8", "#4daf4a", "#984ea3", "#ff7f00", "#f2f23a", "#a65628", "#f781bf", "#377eb8", "#4daf4a", "#984ea3", "#ff7f00"]}}}},
                {"mark": {"type": "tick", "orient": "horizontal", "size": 6.5, "thickness": 0.8, "color": "#000000", "opacity": 0.45}, "encoding": {"y": {"field": "med", "type": "quantitative"}}}
               ]},
              {"data": {"name": "brkC"},
               "encoding": {"x": {"field": "x1", "type": "quantitative", "scale": {"domain": [-0.5, 15.5], "nice": false, "zero": false}, "axis": null},
                            "y": {"field": "lvl", "type": "quantitative", "scale": {"domain": [0, 1], "range": [0, -3.5], "nice": false, "zero": false}, "axis": null}},
               "layer": [
                {"mark": {"type": "rule", "color": "#555555", "strokeWidth": 0.6}, "encoding": {"x2": {"field": "x2"}}},
                {"mark": {"type": "tick", "orient": "vertical", "size": 2, "thickness": 0.6, "yOffset": 1, "color": "#555555"}, "encoding": {}},
                {"mark": {"type": "tick", "orient": "vertical", "size": 2, "thickness": 0.6, "yOffset": 1, "color": "#555555"}, "encoding": {"x": {"field": "x2", "type": "quantitative"}}},
                {"mark": {"type": "text", "fontSize": 4, "baseline": "bottom", "dy": -0.2, "fill": "#444444"}, "encoding": {"x": {"field": "xm", "type": "quantitative"}, "text": {"field": "t"}}}
               ]}
             ],
             "resolve": {"scale": {"x": "independent", "y": "independent"}}}
          ]
        }
          ]
        },
        {
          "spacing": 3,
          "vconcat": [
            {
              "title": {"text": "D", "anchor": "start", "frame": "bounds", "fontSize": 14, "offset": -14},
              "vconcat": [
            {
              "bounds": "flush",
              "spacing": 25,
              "hconcat": [
                {"width": 146, "height": 109, "layer": [
                  {"data": {"name": "box"}, "transform": [{"filter": "datum.p == 'D1'"}],
                   "encoding": {"x": {"field": "m", "type": "nominal", "scale": {"domain": ["veloAgent", "veloAgent-VAE", "veloAgent-GeneNet", "veloAgent-NbrAdj", "veloAgent-ABM"], "paddingInner": 0, "paddingOuter": 0}, "axis": {"title": null, "labelAngle": -15, "labelAlign": "right", "labelBaseline": "top", "labelOffset": 12, "labelFontSize": 7}},
                                "y": {"field": "q1", "type": "quantitative", "scale": {"domain": [-1.1, 1.1], "nice": false, "zero": false}, "axis": {"title": "Cross boundary", "values": [-1, -0.75, -0.5, -0.25, 0, 0.25, 0.5, 0.75, 1], "format": ".2f"}}},
                   "layer": [
                    {"mark": {"type": "rule", "color": "#888888", "strokeWidth": 0.9}, "encoding": {"y": {"field": "lo", "type": "quantitative"}, "y2": {"field": "hi"}}},
                    {"mark": {"type": "tick", "orient": "horizontal", "size": 6, "thickness": 0.9, "color": "#888888"}, "encoding": {"y": {"field": "lo", "type": "quantitative"}}},
                    {"mark": {"type": "tick", "orient": "horizontal", "size": 6, "thickness": 0.9, "color": "#888888"}, "encoding": {"y": {"field": "hi", "type": "quantitative"}}},
                    {"mark": {"type": "bar", "width": {"band": 0.42}, "stroke": "#aaaaaa", "strokeWidth": 0.7, "fillOpacity": 1}, "encoding": {"y2": {"field": "q3"}, "color": {"field": "m", "type": "nominal", "legend": null, "scale": {"domain": ["veloAgent", "cellDancer", "SIRV", "DeepVelo", "veloVAE", "veloVI", "UniTVelo", "scVelo", "veloAgent-VAE", "veloAgent-GeneNet", "veloAgent-NbrAdj", "veloAgent-ABM"], "range": ["#e41a1c", "#377eb8", "#4daf4a", "#984ea3", "#ff7f00", "#f2f23a", "#a65628", "#f781bf", "#377eb8", "#4daf4a", "#984ea3", "#ff7f00"]}}}},
                    {"mark": {"type": "tick", "orient": "horizontal", "size": 12, "thickness": 1, "color": "#000000", "opacity": 0.45}, "encoding": {"y": {"field": "med", "type": "quantitative"}}}
                   ]},
                  {"data": {"name": "brk"}, "transform": [{"filter": "datum.p == 'D1'"}],
                   "encoding": {"x": {"field": "x1", "type": "quantitative", "scale": {"domain": [-0.5, 4.5], "nice": false, "zero": false}, "axis": null},
                                "y": {"field": "lvl", "type": "quantitative", "scale": {"domain": [1, 4], "range": [-4, -15], "nice": false, "zero": false}, "axis": null}},
                   "layer": [
                    {"mark": {"type": "rule", "color": "#666666", "strokeWidth": 0.7}, "encoding": {"x2": {"field": "x2"}}},
                    {"mark": {"type": "tick", "orient": "vertical", "size": 3, "thickness": 0.7, "yOffset": 1.5, "color": "#666666"}, "encoding": {}},
                    {"mark": {"type": "tick", "orient": "vertical", "size": 3, "thickness": 0.7, "yOffset": 1.5, "color": "#666666"}, "encoding": {"x": {"field": "x2", "type": "quantitative"}}},
                    {"mark": {"type": "text", "fontSize": 4.5, "baseline": "bottom", "dy": -0.2, "fill": "#555555"}, "encoding": {"x": {"field": "xm", "type": "quantitative"}, "text": {"field": "t"}}}
                   ]}
                 ], "resolve": {"scale": {"x": "independent", "y": "independent"}}},
                {"width": 146, "height": 109, "layer": [
                  {"data": {"name": "box"}, "transform": [{"filter": "datum.p == 'D2'"}],
                   "encoding": {"x": {"field": "m", "type": "nominal", "scale": {"domain": ["veloAgent", "veloAgent-VAE", "veloAgent-GeneNet", "veloAgent-NbrAdj", "veloAgent-ABM"], "paddingInner": 0, "paddingOuter": 0}, "axis": {"title": null, "labelAngle": -15, "labelAlign": "right", "labelBaseline": "top", "labelOffset": 12, "labelFontSize": 7}},
                                "y": {"field": "q1", "type": "quantitative", "scale": {"domain": [-1.1, 1.1], "nice": false, "zero": false}, "axis": {"title": "Cross boundary", "values": [-1, -0.75, -0.5, -0.25, 0, 0.25, 0.5, 0.75, 1], "format": ".2f"}}},
                   "layer": [
                    {"mark": {"type": "rule", "color": "#888888", "strokeWidth": 0.9}, "encoding": {"y": {"field": "lo", "type": "quantitative"}, "y2": {"field": "hi"}}},
                    {"mark": {"type": "tick", "orient": "horizontal", "size": 6, "thickness": 0.9, "color": "#888888"}, "encoding": {"y": {"field": "lo", "type": "quantitative"}}},
                    {"mark": {"type": "tick", "orient": "horizontal", "size": 6, "thickness": 0.9, "color": "#888888"}, "encoding": {"y": {"field": "hi", "type": "quantitative"}}},
                    {"mark": {"type": "bar", "width": {"band": 0.42}, "stroke": "#aaaaaa", "strokeWidth": 0.7, "fillOpacity": 1}, "encoding": {"y2": {"field": "q3"}, "color": {"field": "m", "type": "nominal", "legend": null, "scale": {"domain": ["veloAgent", "cellDancer", "SIRV", "DeepVelo", "veloVAE", "veloVI", "UniTVelo", "scVelo", "veloAgent-VAE", "veloAgent-GeneNet", "veloAgent-NbrAdj", "veloAgent-ABM"], "range": ["#e41a1c", "#377eb8", "#4daf4a", "#984ea3", "#ff7f00", "#f2f23a", "#a65628", "#f781bf", "#377eb8", "#4daf4a", "#984ea3", "#ff7f00"]}}}},
                    {"mark": {"type": "tick", "orient": "horizontal", "size": 12, "thickness": 1, "color": "#000000", "opacity": 0.45}, "encoding": {"y": {"field": "med", "type": "quantitative"}}}
                   ]},
                  {"data": {"name": "brk"}, "transform": [{"filter": "datum.p == 'D2'"}],
                   "encoding": {"x": {"field": "x1", "type": "quantitative", "scale": {"domain": [-0.5, 4.5], "nice": false, "zero": false}, "axis": null},
                                "y": {"field": "lvl", "type": "quantitative", "scale": {"domain": [1, 4], "range": [-4, -15], "nice": false, "zero": false}, "axis": null}},
                   "layer": [
                    {"mark": {"type": "rule", "color": "#666666", "strokeWidth": 0.7}, "encoding": {"x2": {"field": "x2"}}},
                    {"mark": {"type": "tick", "orient": "vertical", "size": 3, "thickness": 0.7, "yOffset": 1.5, "color": "#666666"}, "encoding": {}},
                    {"mark": {"type": "tick", "orient": "vertical", "size": 3, "thickness": 0.7, "yOffset": 1.5, "color": "#666666"}, "encoding": {"x": {"field": "x2", "type": "quantitative"}}},
                    {"mark": {"type": "text", "fontSize": 4.5, "baseline": "bottom", "dy": -0.2, "fill": "#555555"}, "encoding": {"x": {"field": "xm", "type": "quantitative"}, "text": {"field": "t"}}}
                   ]}
                 ], "resolve": {"scale": {"x": "independent", "y": "independent"}}},
                {"width": 146, "height": 109, "layer": [
                  {"data": {"name": "box"}, "transform": [{"filter": "datum.p == 'D3'"}],
                   "encoding": {"x": {"field": "m", "type": "nominal", "scale": {"domain": ["veloAgent", "veloAgent-VAE", "veloAgent-GeneNet", "veloAgent-NbrAdj", "veloAgent-ABM"], "paddingInner": 0, "paddingOuter": 0}, "axis": {"title": null, "labelAngle": -15, "labelAlign": "right", "labelBaseline": "top", "labelOffset": 12, "labelFontSize": 7}},
                                "y": {"field": "q1", "type": "quantitative", "scale": {"domain": [-1.1, 1.1], "nice": false, "zero": false}, "axis": {"title": "Cross boundary", "values": [-1, -0.75, -0.5, -0.25, 0, 0.25, 0.5, 0.75, 1], "format": ".2f"}}},
                   "layer": [
                    {"mark": {"type": "rule", "color": "#888888", "strokeWidth": 0.9}, "encoding": {"y": {"field": "lo", "type": "quantitative"}, "y2": {"field": "hi"}}},
                    {"mark": {"type": "tick", "orient": "horizontal", "size": 6, "thickness": 0.9, "color": "#888888"}, "encoding": {"y": {"field": "lo", "type": "quantitative"}}},
                    {"mark": {"type": "tick", "orient": "horizontal", "size": 6, "thickness": 0.9, "color": "#888888"}, "encoding": {"y": {"field": "hi", "type": "quantitative"}}},
                    {"mark": {"type": "bar", "width": {"band": 0.42}, "stroke": "#aaaaaa", "strokeWidth": 0.7, "fillOpacity": 1}, "encoding": {"y2": {"field": "q3"}, "color": {"field": "m", "type": "nominal", "legend": null, "scale": {"domain": ["veloAgent", "cellDancer", "SIRV", "DeepVelo", "veloVAE", "veloVI", "UniTVelo", "scVelo", "veloAgent-VAE", "veloAgent-GeneNet", "veloAgent-NbrAdj", "veloAgent-ABM"], "range": ["#e41a1c", "#377eb8", "#4daf4a", "#984ea3", "#ff7f00", "#f2f23a", "#a65628", "#f781bf", "#377eb8", "#4daf4a", "#984ea3", "#ff7f00"]}}}},
                    {"mark": {"type": "tick", "orient": "horizontal", "size": 12, "thickness": 1, "color": "#000000", "opacity": 0.45}, "encoding": {"y": {"field": "med", "type": "quantitative"}}}
                   ]},
                  {"data": {"name": "brk"}, "transform": [{"filter": "datum.p == 'D3'"}],
                   "encoding": {"x": {"field": "x1", "type": "quantitative", "scale": {"domain": [-0.5, 4.5], "nice": false, "zero": false}, "axis": null},
                                "y": {"field": "lvl", "type": "quantitative", "scale": {"domain": [1, 4], "range": [-4, -15], "nice": false, "zero": false}, "axis": null}},
                   "layer": [
                    {"mark": {"type": "rule", "color": "#666666", "strokeWidth": 0.7}, "encoding": {"x2": {"field": "x2"}}},
                    {"mark": {"type": "tick", "orient": "vertical", "size": 3, "thickness": 0.7, "yOffset": 1.5, "color": "#666666"}, "encoding": {}},
                    {"mark": {"type": "tick", "orient": "vertical", "size": 3, "thickness": 0.7, "yOffset": 1.5, "color": "#666666"}, "encoding": {"x": {"field": "x2", "type": "quantitative"}}},
                    {"mark": {"type": "text", "fontSize": 4.5, "baseline": "bottom", "dy": -0.2, "fill": "#555555"}, "encoding": {"x": {"field": "xm", "type": "quantitative"}, "text": {"field": "t"}}}
                   ]}
                 ], "resolve": {"scale": {"x": "independent", "y": "independent"}}},
                {"width": 146, "height": 109, "layer": [
                  {"data": {"name": "box"}, "transform": [{"filter": "datum.p == 'D4'"}],
                   "encoding": {"x": {"field": "m", "type": "nominal", "scale": {"domain": ["veloAgent", "veloAgent-VAE", "veloAgent-GeneNet", "veloAgent-NbrAdj", "veloAgent-ABM"], "paddingInner": 0, "paddingOuter": 0}, "axis": {"title": null, "labelAngle": -15, "labelAlign": "right", "labelBaseline": "top", "labelOffset": 12, "labelFontSize": 7}},
                                "y": {"field": "q1", "type": "quantitative", "scale": {"domain": [-1.1, 1.1], "nice": false, "zero": false}, "axis": {"title": "Cross boundary", "values": [-1, -0.75, -0.5, -0.25, 0, 0.25, 0.5, 0.75, 1], "format": ".2f"}}},
                   "layer": [
                    {"mark": {"type": "rule", "color": "#888888", "strokeWidth": 0.9}, "encoding": {"y": {"field": "lo", "type": "quantitative"}, "y2": {"field": "hi"}}},
                    {"mark": {"type": "tick", "orient": "horizontal", "size": 6, "thickness": 0.9, "color": "#888888"}, "encoding": {"y": {"field": "lo", "type": "quantitative"}}},
                    {"mark": {"type": "tick", "orient": "horizontal", "size": 6, "thickness": 0.9, "color": "#888888"}, "encoding": {"y": {"field": "hi", "type": "quantitative"}}},
                    {"mark": {"type": "bar", "width": {"band": 0.42}, "stroke": "#aaaaaa", "strokeWidth": 0.7, "fillOpacity": 1}, "encoding": {"y2": {"field": "q3"}, "color": {"field": "m", "type": "nominal", "legend": null, "scale": {"domain": ["veloAgent", "cellDancer", "SIRV", "DeepVelo", "veloVAE", "veloVI", "UniTVelo", "scVelo", "veloAgent-VAE", "veloAgent-GeneNet", "veloAgent-NbrAdj", "veloAgent-ABM"], "range": ["#e41a1c", "#377eb8", "#4daf4a", "#984ea3", "#ff7f00", "#f2f23a", "#a65628", "#f781bf", "#377eb8", "#4daf4a", "#984ea3", "#ff7f00"]}}}},
                    {"mark": {"type": "tick", "orient": "horizontal", "size": 12, "thickness": 1, "color": "#000000", "opacity": 0.45}, "encoding": {"y": {"field": "med", "type": "quantitative"}}}
                   ]},
                  {"data": {"name": "brk"}, "transform": [{"filter": "datum.p == 'D4'"}],
                   "encoding": {"x": {"field": "x1", "type": "quantitative", "scale": {"domain": [-0.5, 4.5], "nice": false, "zero": false}, "axis": null},
                                "y": {"field": "lvl", "type": "quantitative", "scale": {"domain": [1, 4], "range": [-4, -15], "nice": false, "zero": false}, "axis": null}},
                   "layer": [
                    {"mark": {"type": "rule", "color": "#666666", "strokeWidth": 0.7}, "encoding": {"x2": {"field": "x2"}}},
                    {"mark": {"type": "tick", "orient": "vertical", "size": 3, "thickness": 0.7, "yOffset": 1.5, "color": "#666666"}, "encoding": {}},
                    {"mark": {"type": "tick", "orient": "vertical", "size": 3, "thickness": 0.7, "yOffset": 1.5, "color": "#666666"}, "encoding": {"x": {"field": "x2", "type": "quantitative"}}},
                    {"mark": {"type": "text", "fontSize": 4.5, "baseline": "bottom", "dy": -0.2, "fill": "#555555"}, "encoding": {"x": {"field": "xm", "type": "quantitative"}, "text": {"field": "t"}}}
                   ]}
                 ], "resolve": {"scale": {"x": "independent", "y": "independent"}}}
              ]
            }
              ]
            },
            {
              "spacing": -4,
              "vconcat": [
                {
                  "title": {"text": "E", "anchor": "start", "frame": "bounds", "fontSize": 14, "offset": -14},
                  "vconcat": [
                {
                  "bounds": "flush",
                  "spacing": 25,
                  "hconcat": [
                    {"width": 146, "height": 110, "layer": [
                      {"data": {"name": "box"}, "transform": [{"filter": "datum.p == 'E1'"}],
                       "encoding": {"x": {"field": "m", "type": "nominal", "scale": {"domain": ["veloAgent", "veloAgent-VAE", "veloAgent-GeneNet", "veloAgent-NbrAdj", "veloAgent-ABM"], "paddingInner": 0, "paddingOuter": 0}, "axis": {"title": null, "labelAngle": -15, "labelAlign": "right", "labelBaseline": "top", "labelOffset": 12, "labelFontSize": 7}},
                                    "y": {"field": "q1", "type": "quantitative", "scale": {"domain": [0.686, 1.0125], "nice": false, "zero": false}, "axis": {"title": "Velocity confidence", "values": [0.7, 0.75, 0.8, 0.85, 0.9, 0.95, 1], "format": ".2f"}}},
                       "layer": [
                        {"mark": {"type": "rule", "color": "#888888", "strokeWidth": 0.9}, "encoding": {"y": {"field": "lo", "type": "quantitative"}, "y2": {"field": "hi"}}},
                        {"mark": {"type": "tick", "orient": "horizontal", "size": 6, "thickness": 0.9, "color": "#888888"}, "encoding": {"y": {"field": "lo", "type": "quantitative"}}},
                        {"mark": {"type": "tick", "orient": "horizontal", "size": 6, "thickness": 0.9, "color": "#888888"}, "encoding": {"y": {"field": "hi", "type": "quantitative"}}},
                        {"mark": {"type": "bar", "width": {"band": 0.42}, "stroke": "#aaaaaa", "strokeWidth": 0.7, "fillOpacity": 1}, "encoding": {"y2": {"field": "q3"}, "color": {"field": "m", "type": "nominal", "legend": null, "scale": {"domain": ["veloAgent", "cellDancer", "SIRV", "DeepVelo", "veloVAE", "veloVI", "UniTVelo", "scVelo", "veloAgent-VAE", "veloAgent-GeneNet", "veloAgent-NbrAdj", "veloAgent-ABM"], "range": ["#e41a1c", "#377eb8", "#4daf4a", "#984ea3", "#ff7f00", "#f2f23a", "#a65628", "#f781bf", "#377eb8", "#4daf4a", "#984ea3", "#ff7f00"]}}}},
                        {"mark": {"type": "tick", "orient": "horizontal", "size": 12, "thickness": 1, "color": "#000000", "opacity": 0.45}, "encoding": {"y": {"field": "med", "type": "quantitative"}}}
                       ]},
                      {"data": {"name": "brk"}, "transform": [{"filter": "datum.p == 'E1'"}],
                       "encoding": {"x": {"field": "x1", "type": "quantitative", "scale": {"domain": [-0.5, 4.5], "nice": false, "zero": false}, "axis": null},
                                    "y": {"field": "lvl", "type": "quantitative", "scale": {"domain": [1, 4], "range": [-2, -11.5], "nice": false, "zero": false}, "axis": null}},
                       "layer": [
                        {"mark": {"type": "rule", "color": "#666666", "strokeWidth": 0.7}, "encoding": {"x2": {"field": "x2"}}},
                        {"mark": {"type": "tick", "orient": "vertical", "size": 3, "thickness": 0.7, "yOffset": 1.5, "color": "#666666"}, "encoding": {}},
                        {"mark": {"type": "tick", "orient": "vertical", "size": 3, "thickness": 0.7, "yOffset": 1.5, "color": "#666666"}, "encoding": {"x": {"field": "x2", "type": "quantitative"}}},
                        {"mark": {"type": "text", "fontSize": 4.5, "baseline": "bottom", "dy": -0.2, "fill": "#555555"}, "encoding": {"x": {"field": "xm", "type": "quantitative"}, "text": {"field": "t"}}}
                       ]}
                     ], "resolve": {"scale": {"x": "independent", "y": "independent"}}},
                    {"width": 146, "height": 110, "layer": [
                      {"data": {"name": "box"}, "transform": [{"filter": "datum.p == 'E2'"}],
                       "encoding": {"x": {"field": "m", "type": "nominal", "scale": {"domain": ["veloAgent", "veloAgent-VAE", "veloAgent-GeneNet", "veloAgent-NbrAdj", "veloAgent-ABM"], "paddingInner": 0, "paddingOuter": 0}, "axis": {"title": null, "labelAngle": -15, "labelAlign": "right", "labelBaseline": "top", "labelOffset": 12, "labelFontSize": 7}},
                                    "y": {"field": "q1", "type": "quantitative", "scale": {"domain": [0.9773, 1.0007], "nice": false, "zero": false}, "axis": {"title": "Velocity confidence", "values": [0.98, 0.985, 0.99, 0.995, 1], "format": ".3f"}}},
                       "layer": [
                        {"mark": {"type": "rule", "color": "#888888", "strokeWidth": 0.9}, "encoding": {"y": {"field": "lo", "type": "quantitative"}, "y2": {"field": "hi"}}},
                        {"mark": {"type": "tick", "orient": "horizontal", "size": 6, "thickness": 0.9, "color": "#888888"}, "encoding": {"y": {"field": "lo", "type": "quantitative"}}},
                        {"mark": {"type": "tick", "orient": "horizontal", "size": 6, "thickness": 0.9, "color": "#888888"}, "encoding": {"y": {"field": "hi", "type": "quantitative"}}},
                        {"mark": {"type": "bar", "width": {"band": 0.42}, "stroke": "#aaaaaa", "strokeWidth": 0.7, "fillOpacity": 1}, "encoding": {"y2": {"field": "q3"}, "color": {"field": "m", "type": "nominal", "legend": null, "scale": {"domain": ["veloAgent", "cellDancer", "SIRV", "DeepVelo", "veloVAE", "veloVI", "UniTVelo", "scVelo", "veloAgent-VAE", "veloAgent-GeneNet", "veloAgent-NbrAdj", "veloAgent-ABM"], "range": ["#e41a1c", "#377eb8", "#4daf4a", "#984ea3", "#ff7f00", "#f2f23a", "#a65628", "#f781bf", "#377eb8", "#4daf4a", "#984ea3", "#ff7f00"]}}}},
                        {"mark": {"type": "tick", "orient": "horizontal", "size": 12, "thickness": 1, "color": "#000000", "opacity": 0.45}, "encoding": {"y": {"field": "med", "type": "quantitative"}}}
                       ]},
                      {"data": {"name": "brk"}, "transform": [{"filter": "datum.p == 'E2'"}],
                       "encoding": {"x": {"field": "x1", "type": "quantitative", "scale": {"domain": [-0.5, 4.5], "nice": false, "zero": false}, "axis": null},
                                    "y": {"field": "lvl", "type": "quantitative", "scale": {"domain": [1, 4], "range": [-2, -11.5], "nice": false, "zero": false}, "axis": null}},
                       "layer": [
                        {"mark": {"type": "rule", "color": "#666666", "strokeWidth": 0.7}, "encoding": {"x2": {"field": "x2"}}},
                        {"mark": {"type": "tick", "orient": "vertical", "size": 3, "thickness": 0.7, "yOffset": 1.5, "color": "#666666"}, "encoding": {}},
                        {"mark": {"type": "tick", "orient": "vertical", "size": 3, "thickness": 0.7, "yOffset": 1.5, "color": "#666666"}, "encoding": {"x": {"field": "x2", "type": "quantitative"}}},
                        {"mark": {"type": "text", "fontSize": 4.5, "baseline": "bottom", "dy": -0.2, "fill": "#555555"}, "encoding": {"x": {"field": "xm", "type": "quantitative"}, "text": {"field": "t"}}}
                       ]}
                     ], "resolve": {"scale": {"x": "independent", "y": "independent"}}},
                    {"width": 146, "height": 110, "layer": [
                      {"data": {"name": "box"}, "transform": [{"filter": "datum.p == 'E3'"}],
                       "encoding": {"x": {"field": "m", "type": "nominal", "scale": {"domain": ["veloAgent", "veloAgent-VAE", "veloAgent-GeneNet", "veloAgent-NbrAdj", "veloAgent-ABM"], "paddingInner": 0, "paddingOuter": 0}, "axis": {"title": null, "labelAngle": -15, "labelAlign": "right", "labelBaseline": "top", "labelOffset": 12, "labelFontSize": 7}},
                                    "y": {"field": "q1", "type": "quantitative", "scale": {"domain": [0.966, 1.0006], "nice": false, "zero": false}, "axis": {"title": "Velocity confidence", "values": [0.97, 0.975, 0.98, 0.985, 0.99, 0.995, 1], "format": ".3f"}}},
                       "layer": [
                        {"mark": {"type": "rule", "color": "#888888", "strokeWidth": 0.9}, "encoding": {"y": {"field": "lo", "type": "quantitative"}, "y2": {"field": "hi"}}},
                        {"mark": {"type": "tick", "orient": "horizontal", "size": 6, "thickness": 0.9, "color": "#888888"}, "encoding": {"y": {"field": "lo", "type": "quantitative"}}},
                        {"mark": {"type": "tick", "orient": "horizontal", "size": 6, "thickness": 0.9, "color": "#888888"}, "encoding": {"y": {"field": "hi", "type": "quantitative"}}},
                        {"mark": {"type": "bar", "width": {"band": 0.42}, "stroke": "#aaaaaa", "strokeWidth": 0.7, "fillOpacity": 1}, "encoding": {"y2": {"field": "q3"}, "color": {"field": "m", "type": "nominal", "legend": null, "scale": {"domain": ["veloAgent", "cellDancer", "SIRV", "DeepVelo", "veloVAE", "veloVI", "UniTVelo", "scVelo", "veloAgent-VAE", "veloAgent-GeneNet", "veloAgent-NbrAdj", "veloAgent-ABM"], "range": ["#e41a1c", "#377eb8", "#4daf4a", "#984ea3", "#ff7f00", "#f2f23a", "#a65628", "#f781bf", "#377eb8", "#4daf4a", "#984ea3", "#ff7f00"]}}}},
                        {"mark": {"type": "tick", "orient": "horizontal", "size": 12, "thickness": 1, "color": "#000000", "opacity": 0.45}, "encoding": {"y": {"field": "med", "type": "quantitative"}}}
                       ]},
                      {"data": {"name": "brk"}, "transform": [{"filter": "datum.p == 'E3'"}],
                       "encoding": {"x": {"field": "x1", "type": "quantitative", "scale": {"domain": [-0.5, 4.5], "nice": false, "zero": false}, "axis": null},
                                    "y": {"field": "lvl", "type": "quantitative", "scale": {"domain": [1, 4], "range": [-2, -11.5], "nice": false, "zero": false}, "axis": null}},
                       "layer": [
                        {"mark": {"type": "rule", "color": "#666666", "strokeWidth": 0.7}, "encoding": {"x2": {"field": "x2"}}},
                        {"mark": {"type": "tick", "orient": "vertical", "size": 3, "thickness": 0.7, "yOffset": 1.5, "color": "#666666"}, "encoding": {}},
                        {"mark": {"type": "tick", "orient": "vertical", "size": 3, "thickness": 0.7, "yOffset": 1.5, "color": "#666666"}, "encoding": {"x": {"field": "x2", "type": "quantitative"}}},
                        {"mark": {"type": "text", "fontSize": 4.5, "baseline": "bottom", "dy": -0.2, "fill": "#555555"}, "encoding": {"x": {"field": "xm", "type": "quantitative"}, "text": {"field": "t"}}}
                       ]}
                     ], "resolve": {"scale": {"x": "independent", "y": "independent"}}},
                    {"width": 146, "height": 110, "layer": [
                      {"data": {"name": "box"}, "transform": [{"filter": "datum.p == 'E4'"}],
                       "encoding": {"x": {"field": "m", "type": "nominal", "scale": {"domain": ["veloAgent", "veloAgent-VAE", "veloAgent-GeneNet", "veloAgent-NbrAdj", "veloAgent-ABM"], "paddingInner": 0, "paddingOuter": 0}, "axis": {"title": null, "labelAngle": -15, "labelAlign": "right", "labelBaseline": "top", "labelOffset": 12, "labelFontSize": 7}},
                                    "y": {"field": "q1", "type": "quantitative", "scale": {"domain": [0.712, 1.01], "nice": false, "zero": false}, "axis": {"title": "Velocity confidence", "values": [0.75, 0.8, 0.85, 0.9, 0.95, 1], "format": ".2f"}}},
                       "layer": [
                        {"mark": {"type": "rule", "color": "#888888", "strokeWidth": 0.9}, "encoding": {"y": {"field": "lo", "type": "quantitative"}, "y2": {"field": "hi"}}},
                        {"mark": {"type": "tick", "orient": "horizontal", "size": 6, "thickness": 0.9, "color": "#888888"}, "encoding": {"y": {"field": "lo", "type": "quantitative"}}},
                        {"mark": {"type": "tick", "orient": "horizontal", "size": 6, "thickness": 0.9, "color": "#888888"}, "encoding": {"y": {"field": "hi", "type": "quantitative"}}},
                        {"mark": {"type": "bar", "width": {"band": 0.42}, "stroke": "#aaaaaa", "strokeWidth": 0.7, "fillOpacity": 1}, "encoding": {"y2": {"field": "q3"}, "color": {"field": "m", "type": "nominal", "legend": null, "scale": {"domain": ["veloAgent", "cellDancer", "SIRV", "DeepVelo", "veloVAE", "veloVI", "UniTVelo", "scVelo", "veloAgent-VAE", "veloAgent-GeneNet", "veloAgent-NbrAdj", "veloAgent-ABM"], "range": ["#e41a1c", "#377eb8", "#4daf4a", "#984ea3", "#ff7f00", "#f2f23a", "#a65628", "#f781bf", "#377eb8", "#4daf4a", "#984ea3", "#ff7f00"]}}}},
                        {"mark": {"type": "tick", "orient": "horizontal", "size": 12, "thickness": 1, "color": "#000000", "opacity": 0.45}, "encoding": {"y": {"field": "med", "type": "quantitative"}}}
                       ]},
                      {"data": {"name": "brk"}, "transform": [{"filter": "datum.p == 'E4'"}],
                       "encoding": {"x": {"field": "x1", "type": "quantitative", "scale": {"domain": [-0.5, 4.5], "nice": false, "zero": false}, "axis": null},
                                    "y": {"field": "lvl", "type": "quantitative", "scale": {"domain": [1, 4], "range": [-2, -11.5], "nice": false, "zero": false}, "axis": null}},
                       "layer": [
                        {"mark": {"type": "rule", "color": "#666666", "strokeWidth": 0.7}, "encoding": {"x2": {"field": "x2"}}},
                        {"mark": {"type": "tick", "orient": "vertical", "size": 3, "thickness": 0.7, "yOffset": 1.5, "color": "#666666"}, "encoding": {}},
                        {"mark": {"type": "tick", "orient": "vertical", "size": 3, "thickness": 0.7, "yOffset": 1.5, "color": "#666666"}, "encoding": {"x": {"field": "x2", "type": "quantitative"}}},
                        {"mark": {"type": "text", "fontSize": 4.5, "baseline": "bottom", "dy": -0.2, "fill": "#555555"}, "encoding": {"x": {"field": "xm", "type": "quantitative"}, "text": {"field": "t"}}}
                       ]}
                     ], "resolve": {"scale": {"x": "independent", "y": "independent"}}}
                  ]
                }
                  ]
                },
                {
                  "title": {"text": "F", "anchor": "start", "frame": "bounds", "fontSize": 14, "offset": -14},
                  "vconcat": [
                {
                  "bounds": "flush",
                  "spacing": 25,
                  "hconcat": [
                    {"width": 146, "height": 122, "layer": [
                      {"data": {"name": "box"}, "transform": [{"filter": "datum.p == 'F1'"}],
                       "encoding": {"x": {"field": "m", "type": "nominal", "scale": {"domain": ["veloAgent", "veloAgent-VAE", "veloAgent-GeneNet", "veloAgent-NbrAdj", "veloAgent-ABM"], "paddingInner": 0, "paddingOuter": 0}, "axis": {"title": null, "labelAngle": -15, "labelAlign": "right", "labelBaseline": "top", "labelOffset": 12, "labelFontSize": 7}},
                                    "y": {"field": "q1", "type": "quantitative", "scale": {"domain": [-0.05, 1.05], "nice": false, "zero": false}, "axis": {"title": "Fate probability", "values": [0, 0.2, 0.4, 0.6, 0.8, 1], "format": ".1f"}}},
                       "layer": [
                        {"mark": {"type": "rule", "color": "#888888", "strokeWidth": 0.9}, "encoding": {"y": {"field": "lo", "type": "quantitative"}, "y2": {"field": "hi"}}},
                        {"mark": {"type": "tick", "orient": "horizontal", "size": 6, "thickness": 0.9, "color": "#888888"}, "encoding": {"y": {"field": "lo", "type": "quantitative"}}},
                        {"mark": {"type": "tick", "orient": "horizontal", "size": 6, "thickness": 0.9, "color": "#888888"}, "encoding": {"y": {"field": "hi", "type": "quantitative"}}},
                        {"mark": {"type": "bar", "width": {"band": 0.42}, "stroke": "#aaaaaa", "strokeWidth": 0.7, "fillOpacity": 1}, "encoding": {"y2": {"field": "q3"}, "color": {"field": "m", "type": "nominal", "legend": null, "scale": {"domain": ["veloAgent", "cellDancer", "SIRV", "DeepVelo", "veloVAE", "veloVI", "UniTVelo", "scVelo", "veloAgent-VAE", "veloAgent-GeneNet", "veloAgent-NbrAdj", "veloAgent-ABM"], "range": ["#e41a1c", "#377eb8", "#4daf4a", "#984ea3", "#ff7f00", "#f2f23a", "#a65628", "#f781bf", "#377eb8", "#4daf4a", "#984ea3", "#ff7f00"]}}}},
                        {"mark": {"type": "tick", "orient": "horizontal", "size": 12, "thickness": 1, "color": "#000000", "opacity": 0.45}, "encoding": {"y": {"field": "med", "type": "quantitative"}}}
                       ]},
                      {"data": {"name": "brk"}, "transform": [{"filter": "datum.p == 'F1'"}],
                       "encoding": {"x": {"field": "x1", "type": "quantitative", "scale": {"domain": [-0.5, 4.5], "nice": false, "zero": false}, "axis": null},
                                    "y": {"field": "lvl", "type": "quantitative", "scale": {"domain": [1, 4], "range": [-1.5, -13], "nice": false, "zero": false}, "axis": null}},
                       "layer": [
                        {"mark": {"type": "rule", "color": "#666666", "strokeWidth": 0.7}, "encoding": {"x2": {"field": "x2"}}},
                        {"mark": {"type": "tick", "orient": "vertical", "size": 3, "thickness": 0.7, "yOffset": 1.5, "color": "#666666"}, "encoding": {}},
                        {"mark": {"type": "tick", "orient": "vertical", "size": 3, "thickness": 0.7, "yOffset": 1.5, "color": "#666666"}, "encoding": {"x": {"field": "x2", "type": "quantitative"}}},
                        {"mark": {"type": "text", "fontSize": 4.5, "baseline": "bottom", "dy": -0.2, "fill": "#555555"}, "encoding": {"x": {"field": "xm", "type": "quantitative"}, "text": {"field": "t"}}}
                       ]}
                     ], "resolve": {"scale": {"x": "independent", "y": "independent"}}},
                    {"width": 146, "height": 122, "layer": [
                      {"data": {"name": "box"}, "transform": [{"filter": "datum.p == 'F2'"}],
                       "encoding": {"x": {"field": "m", "type": "nominal", "scale": {"domain": ["veloAgent", "veloAgent-VAE", "veloAgent-GeneNet", "veloAgent-NbrAdj", "veloAgent-ABM"], "paddingInner": 0, "paddingOuter": 0}, "axis": {"title": null, "labelAngle": -15, "labelAlign": "right", "labelBaseline": "top", "labelOffset": 12, "labelFontSize": 7}},
                                    "y": {"field": "q1", "type": "quantitative", "scale": {"domain": [0.063, 1.05], "nice": false, "zero": false}, "axis": {"title": "Fate probability", "values": [0.2, 0.4, 0.6, 0.8, 1], "format": ".1f"}}},
                       "layer": [
                        {"mark": {"type": "rule", "color": "#888888", "strokeWidth": 0.9}, "encoding": {"y": {"field": "lo", "type": "quantitative"}, "y2": {"field": "hi"}}},
                        {"mark": {"type": "tick", "orient": "horizontal", "size": 6, "thickness": 0.9, "color": "#888888"}, "encoding": {"y": {"field": "lo", "type": "quantitative"}}},
                        {"mark": {"type": "tick", "orient": "horizontal", "size": 6, "thickness": 0.9, "color": "#888888"}, "encoding": {"y": {"field": "hi", "type": "quantitative"}}},
                        {"mark": {"type": "bar", "width": {"band": 0.42}, "stroke": "#aaaaaa", "strokeWidth": 0.7, "fillOpacity": 1}, "encoding": {"y2": {"field": "q3"}, "color": {"field": "m", "type": "nominal", "legend": null, "scale": {"domain": ["veloAgent", "cellDancer", "SIRV", "DeepVelo", "veloVAE", "veloVI", "UniTVelo", "scVelo", "veloAgent-VAE", "veloAgent-GeneNet", "veloAgent-NbrAdj", "veloAgent-ABM"], "range": ["#e41a1c", "#377eb8", "#4daf4a", "#984ea3", "#ff7f00", "#f2f23a", "#a65628", "#f781bf", "#377eb8", "#4daf4a", "#984ea3", "#ff7f00"]}}}},
                        {"mark": {"type": "tick", "orient": "horizontal", "size": 12, "thickness": 1, "color": "#000000", "opacity": 0.45}, "encoding": {"y": {"field": "med", "type": "quantitative"}}}
                       ]},
                      {"data": {"name": "brk"}, "transform": [{"filter": "datum.p == 'F2'"}],
                       "encoding": {"x": {"field": "x1", "type": "quantitative", "scale": {"domain": [-0.5, 4.5], "nice": false, "zero": false}, "axis": null},
                                    "y": {"field": "lvl", "type": "quantitative", "scale": {"domain": [1, 4], "range": [-1.5, -13], "nice": false, "zero": false}, "axis": null}},
                       "layer": [
                        {"mark": {"type": "rule", "color": "#666666", "strokeWidth": 0.7}, "encoding": {"x2": {"field": "x2"}}},
                        {"mark": {"type": "tick", "orient": "vertical", "size": 3, "thickness": 0.7, "yOffset": 1.5, "color": "#666666"}, "encoding": {}},
                        {"mark": {"type": "tick", "orient": "vertical", "size": 3, "thickness": 0.7, "yOffset": 1.5, "color": "#666666"}, "encoding": {"x": {"field": "x2", "type": "quantitative"}}},
                        {"mark": {"type": "text", "fontSize": 4.5, "baseline": "bottom", "dy": -0.2, "fill": "#555555"}, "encoding": {"x": {"field": "xm", "type": "quantitative"}, "text": {"field": "t"}}}
                       ]}
                     ], "resolve": {"scale": {"x": "independent", "y": "independent"}}},
                    {"width": 146, "height": 122, "layer": [
                      {"data": {"name": "box"}, "transform": [{"filter": "datum.p == 'F3'"}],
                       "encoding": {"x": {"field": "m", "type": "nominal", "scale": {"domain": ["veloAgent", "veloAgent-VAE", "veloAgent-GeneNet", "veloAgent-NbrAdj", "veloAgent-ABM"], "paddingInner": 0, "paddingOuter": 0}, "axis": {"title": null, "labelAngle": -15, "labelAlign": "right", "labelBaseline": "top", "labelOffset": 12, "labelFontSize": 7}},
                                    "y": {"field": "q1", "type": "quantitative", "scale": {"domain": [-0.027, 0.567], "nice": false, "zero": false}, "axis": {"title": "Fate probability", "values": [0, 0.1, 0.2, 0.3, 0.4, 0.5], "format": ".1f"}}},
                       "layer": [
                        {"mark": {"type": "rule", "color": "#888888", "strokeWidth": 0.9}, "encoding": {"y": {"field": "lo", "type": "quantitative"}, "y2": {"field": "hi"}}},
                        {"mark": {"type": "tick", "orient": "horizontal", "size": 6, "thickness": 0.9, "color": "#888888"}, "encoding": {"y": {"field": "lo", "type": "quantitative"}}},
                        {"mark": {"type": "tick", "orient": "horizontal", "size": 6, "thickness": 0.9, "color": "#888888"}, "encoding": {"y": {"field": "hi", "type": "quantitative"}}},
                        {"mark": {"type": "bar", "width": {"band": 0.42}, "stroke": "#aaaaaa", "strokeWidth": 0.7, "fillOpacity": 1}, "encoding": {"y2": {"field": "q3"}, "color": {"field": "m", "type": "nominal", "legend": null, "scale": {"domain": ["veloAgent", "cellDancer", "SIRV", "DeepVelo", "veloVAE", "veloVI", "UniTVelo", "scVelo", "veloAgent-VAE", "veloAgent-GeneNet", "veloAgent-NbrAdj", "veloAgent-ABM"], "range": ["#e41a1c", "#377eb8", "#4daf4a", "#984ea3", "#ff7f00", "#f2f23a", "#a65628", "#f781bf", "#377eb8", "#4daf4a", "#984ea3", "#ff7f00"]}}}},
                        {"mark": {"type": "tick", "orient": "horizontal", "size": 12, "thickness": 1, "color": "#000000", "opacity": 0.45}, "encoding": {"y": {"field": "med", "type": "quantitative"}}}
                       ]},
                      {"data": {"name": "brk"}, "transform": [{"filter": "datum.p == 'F3'"}],
                       "encoding": {"x": {"field": "x1", "type": "quantitative", "scale": {"domain": [-0.5, 4.5], "nice": false, "zero": false}, "axis": null},
                                    "y": {"field": "lvl", "type": "quantitative", "scale": {"domain": [1, 4], "range": [-1.5, -13], "nice": false, "zero": false}, "axis": null}},
                       "layer": [
                        {"mark": {"type": "rule", "color": "#666666", "strokeWidth": 0.7}, "encoding": {"x2": {"field": "x2"}}},
                        {"mark": {"type": "tick", "orient": "vertical", "size": 3, "thickness": 0.7, "yOffset": 1.5, "color": "#666666"}, "encoding": {}},
                        {"mark": {"type": "tick", "orient": "vertical", "size": 3, "thickness": 0.7, "yOffset": 1.5, "color": "#666666"}, "encoding": {"x": {"field": "x2", "type": "quantitative"}}},
                        {"mark": {"type": "text", "fontSize": 4.5, "baseline": "bottom", "dy": -0.2, "fill": "#555555"}, "encoding": {"x": {"field": "xm", "type": "quantitative"}, "text": {"field": "t"}}}
                       ]}
                     ], "resolve": {"scale": {"x": "independent", "y": "independent"}}},
                    {"width": 146, "height": 122, "layer": [
                      {"data": {"name": "box"}, "transform": [{"filter": "datum.p == 'F4'"}],
                       "encoding": {"x": {"field": "m", "type": "nominal", "scale": {"domain": ["veloAgent", "veloAgent-VAE", "veloAgent-GeneNet", "veloAgent-NbrAdj", "veloAgent-ABM"], "paddingInner": 0, "paddingOuter": 0}, "axis": {"title": null, "labelAngle": -15, "labelAlign": "right", "labelBaseline": "top", "labelOffset": 12, "labelFontSize": 7}},
                                    "y": {"field": "q1", "type": "quantitative", "scale": {"domain": [-0.05, 1.05], "nice": false, "zero": false}, "axis": {"title": "Fate probability", "values": [0, 0.2, 0.4, 0.6, 0.8, 1], "format": ".1f"}}},
                       "layer": [
                        {"mark": {"type": "rule", "color": "#888888", "strokeWidth": 0.9}, "encoding": {"y": {"field": "lo", "type": "quantitative"}, "y2": {"field": "hi"}}},
                        {"mark": {"type": "tick", "orient": "horizontal", "size": 6, "thickness": 0.9, "color": "#888888"}, "encoding": {"y": {"field": "lo", "type": "quantitative"}}},
                        {"mark": {"type": "tick", "orient": "horizontal", "size": 6, "thickness": 0.9, "color": "#888888"}, "encoding": {"y": {"field": "hi", "type": "quantitative"}}},
                        {"mark": {"type": "bar", "width": {"band": 0.42}, "stroke": "#aaaaaa", "strokeWidth": 0.7, "fillOpacity": 1}, "encoding": {"y2": {"field": "q3"}, "color": {"field": "m", "type": "nominal", "legend": null, "scale": {"domain": ["veloAgent", "cellDancer", "SIRV", "DeepVelo", "veloVAE", "veloVI", "UniTVelo", "scVelo", "veloAgent-VAE", "veloAgent-GeneNet", "veloAgent-NbrAdj", "veloAgent-ABM"], "range": ["#e41a1c", "#377eb8", "#4daf4a", "#984ea3", "#ff7f00", "#f2f23a", "#a65628", "#f781bf", "#377eb8", "#4daf4a", "#984ea3", "#ff7f00"]}}}},
                        {"mark": {"type": "tick", "orient": "horizontal", "size": 12, "thickness": 1, "color": "#000000", "opacity": 0.45}, "encoding": {"y": {"field": "med", "type": "quantitative"}}}
                       ]},
                      {"data": {"name": "brk"}, "transform": [{"filter": "datum.p == 'F4'"}],
                       "encoding": {"x": {"field": "x1", "type": "quantitative", "scale": {"domain": [-0.5, 4.5], "nice": false, "zero": false}, "axis": null},
                                    "y": {"field": "lvl", "type": "quantitative", "scale": {"domain": [1, 4], "range": [-1.5, -13], "nice": false, "zero": false}, "axis": null}},
                       "layer": [
                        {"mark": {"type": "rule", "color": "#666666", "strokeWidth": 0.7}, "encoding": {"x2": {"field": "x2"}}},
                        {"mark": {"type": "tick", "orient": "vertical", "size": 3, "thickness": 0.7, "yOffset": 1.5, "color": "#666666"}, "encoding": {}},
                        {"mark": {"type": "tick", "orient": "vertical", "size": 3, "thickness": 0.7, "yOffset": 1.5, "color": "#666666"}, "encoding": {"x": {"field": "x2", "type": "quantitative"}}},
                        {"mark": {"type": "text", "fontSize": 4.5, "baseline": "bottom", "dy": -0.2, "fill": "#555555"}, "encoding": {"x": {"field": "xm", "type": "quantitative"}, "text": {"field": "t"}}}
                       ]}
                     ], "resolve": {"scale": {"x": "independent", "y": "independent"}}}
                  ]
                }
                  ]
                }
              ]
            }
          ]
        }
      ]
    }
  ]
}
